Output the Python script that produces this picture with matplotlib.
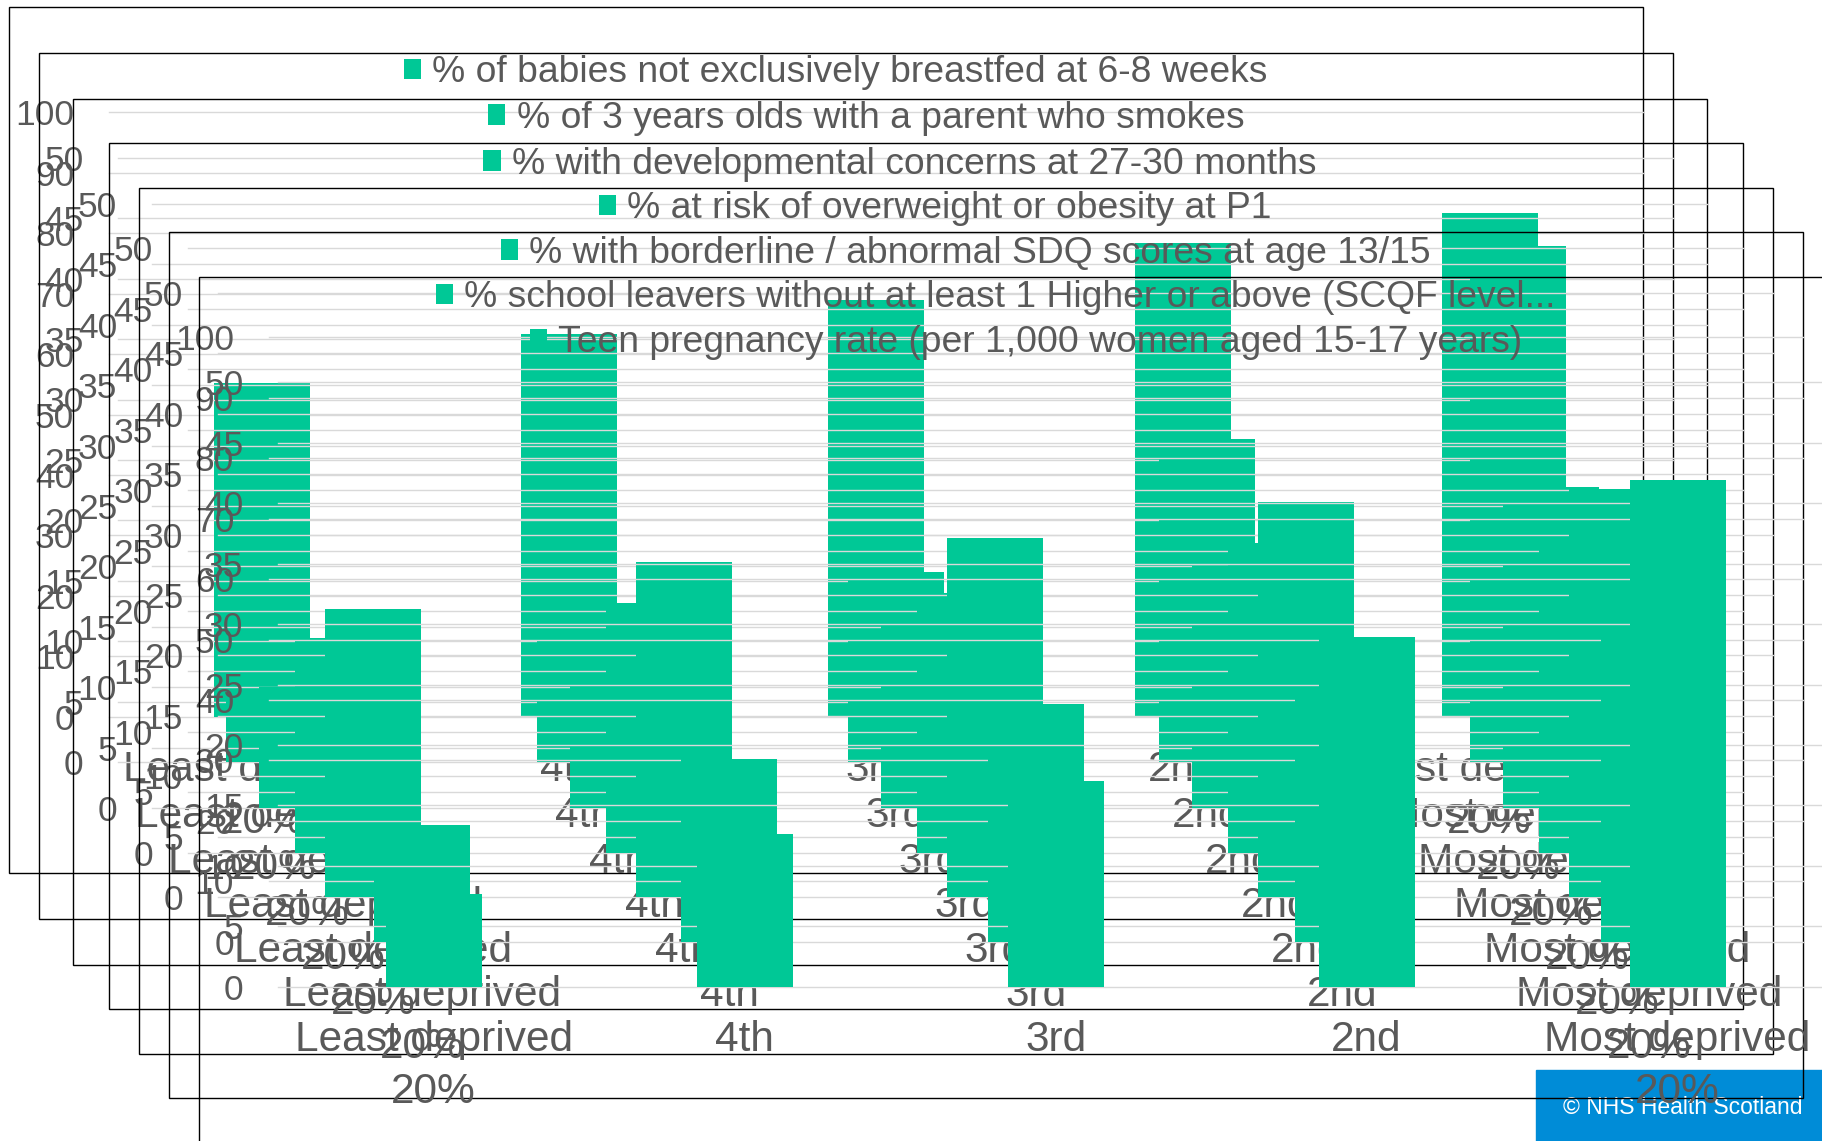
import matplotlib
matplotlib.use("Agg")
import matplotlib.pyplot as plt
from matplotlib.patches import Rectangle

plt.rcParams["font.family"] = ["Liberation Sans", "DejaVu Sans"]

# data
categories = ["Least deprived\n20%", "4th", "3rd", "2nd", "Most deprived\n20%"]

series_names = [
    "% of babies not exclusively breastfed at 6-8 weeks",
    "% of 3 years olds with a parent who smokes",
    "% with developmental concerns at 27-30 months",
    "% at risk of overweight or obesity at P1",
    "% with borderline / abnormal SDQ scores at age 13/15",
    "% school leavers without at least 1 Higher or above (SCQF level...",
    "Teen pregnancy rate (per 1,000 women aged 15-17 years)",
]

breastfed = [55.2, 63.4, 68.9, 78.3, 83.3]
smokes = [6.0, 10.0, 15.7, 26.7, 42.7]
dev_concerns = [10.0, 13.0, 16.0, 20.0, 26.6]
overweight = [17.8, 20.7, 21.5, 25.6, 26.5]
sdq = [23.8, 27.7, 29.7, 32.7, 33.8]
leavers = [19.4, 30.3, 39.3, 49.5, 58.0]
teen_preg = [7.7, 12.6, 17.0, 28.9, 41.9]

series_values = [breastfed, smokes, dev_concerns, overweight, sdq, leavers, teen_preg]
axis_max = [100, 50, 50, 50, 50, 100, 50]

W, H = 1822, 1141
GREEN = "#00C896"
GREY = "#595959"
GRID = "#D9D9D9"

# the stacked chart frames (pixels from top-left)
frame_left = [9, 39.3, 72.8, 108.5, 138.8, 168.8, 199.1]
frame_top = [7.3, 52.7, 98.7, 143.3, 187.7, 232.3, 277.3]
FW, FH = 1634, 866


def fx(x):
    return x / W


def fy(y):
    return 1 - y / H


fig = plt.figure(figsize=(W / 100, H / 100), dpi=100)

# NHS badge, bottom right, under everything else
fig.patches.append(Rectangle((fx(1536), fy(1141)), (1822 - 1536) / W, (1141 - 1070) / H,
                             transform=fig.transFigure, color="#008CD7", zorder=0))
fig.text(fx(1683), fy(1107), "\u00a9 NHS Health Scotland", color="white",
         fontsize=16.5, ha="center", va="center", zorder=1)

for k in range(len(series_names)):
    z = 10 + 10 * k
    L, T = frame_left[k], frame_top[k]
    top = axis_max[k]

    fig.patches.append(Rectangle((fx(L), fy(T + FH)), FW / W, FH / H,
                                 transform=fig.transFigure, fill=False,
                                 ec="black", lw=1.0, zorder=z))

    pl = L + (100 if top == 100 else 79)
    pr = L + FW
    pt, pb = T + 105, T + 709.5
    ax = fig.add_axes([fx(pl), fy(pb), (pr - pl) / W, (pb - pt) / H])
    ax.set_zorder(z + 1)
    ax.patch.set_visible(False)

    sp = (pr - pl) / 5
    ax.bar(range(5), series_values[k], width=96 / sp, color=GREEN,
           label=series_names[k], zorder=2)
    ax.set_xlim(-0.5, 4.5)
    ax.set_ylim(0, top)
    step = 10 if top == 100 else 5
    ax.set_yticks(range(0, top + 1, step))
    ax.yaxis.grid(True, color=GRID, lw=1.0)
    ax.set_axisbelow(True)
    for gl in ax.get_ygridlines():
        gl.set_clip_on(False)
    for s in ax.spines.values():
        s.set_visible(False)
    ax.tick_params(length=0, colors=GREY)
    ax.tick_params(axis="y", labelsize=25.5, pad=25)
    ax.set_xticks(range(5), categories)
    ax.tick_params(axis="x", labelsize=30.5, pad=24)
    for lab in ax.get_xticklabels():
        lab.set_linespacing(1.39)

    leg = ax.legend(loc="center", bbox_to_anchor=(fx(L + FW / 2 + 10), fy(T + 65.5)),
                    bbox_transform=fig.transFigure, frameon=False, fontsize=26.8,
                    handlelength=0.46, handleheight=0.46, handletextpad=0.3,
                    borderpad=0, borderaxespad=0)
    for t in leg.get_texts():
        t.set_color(GREY)

fig.savefig("out.png", dpi=100)
